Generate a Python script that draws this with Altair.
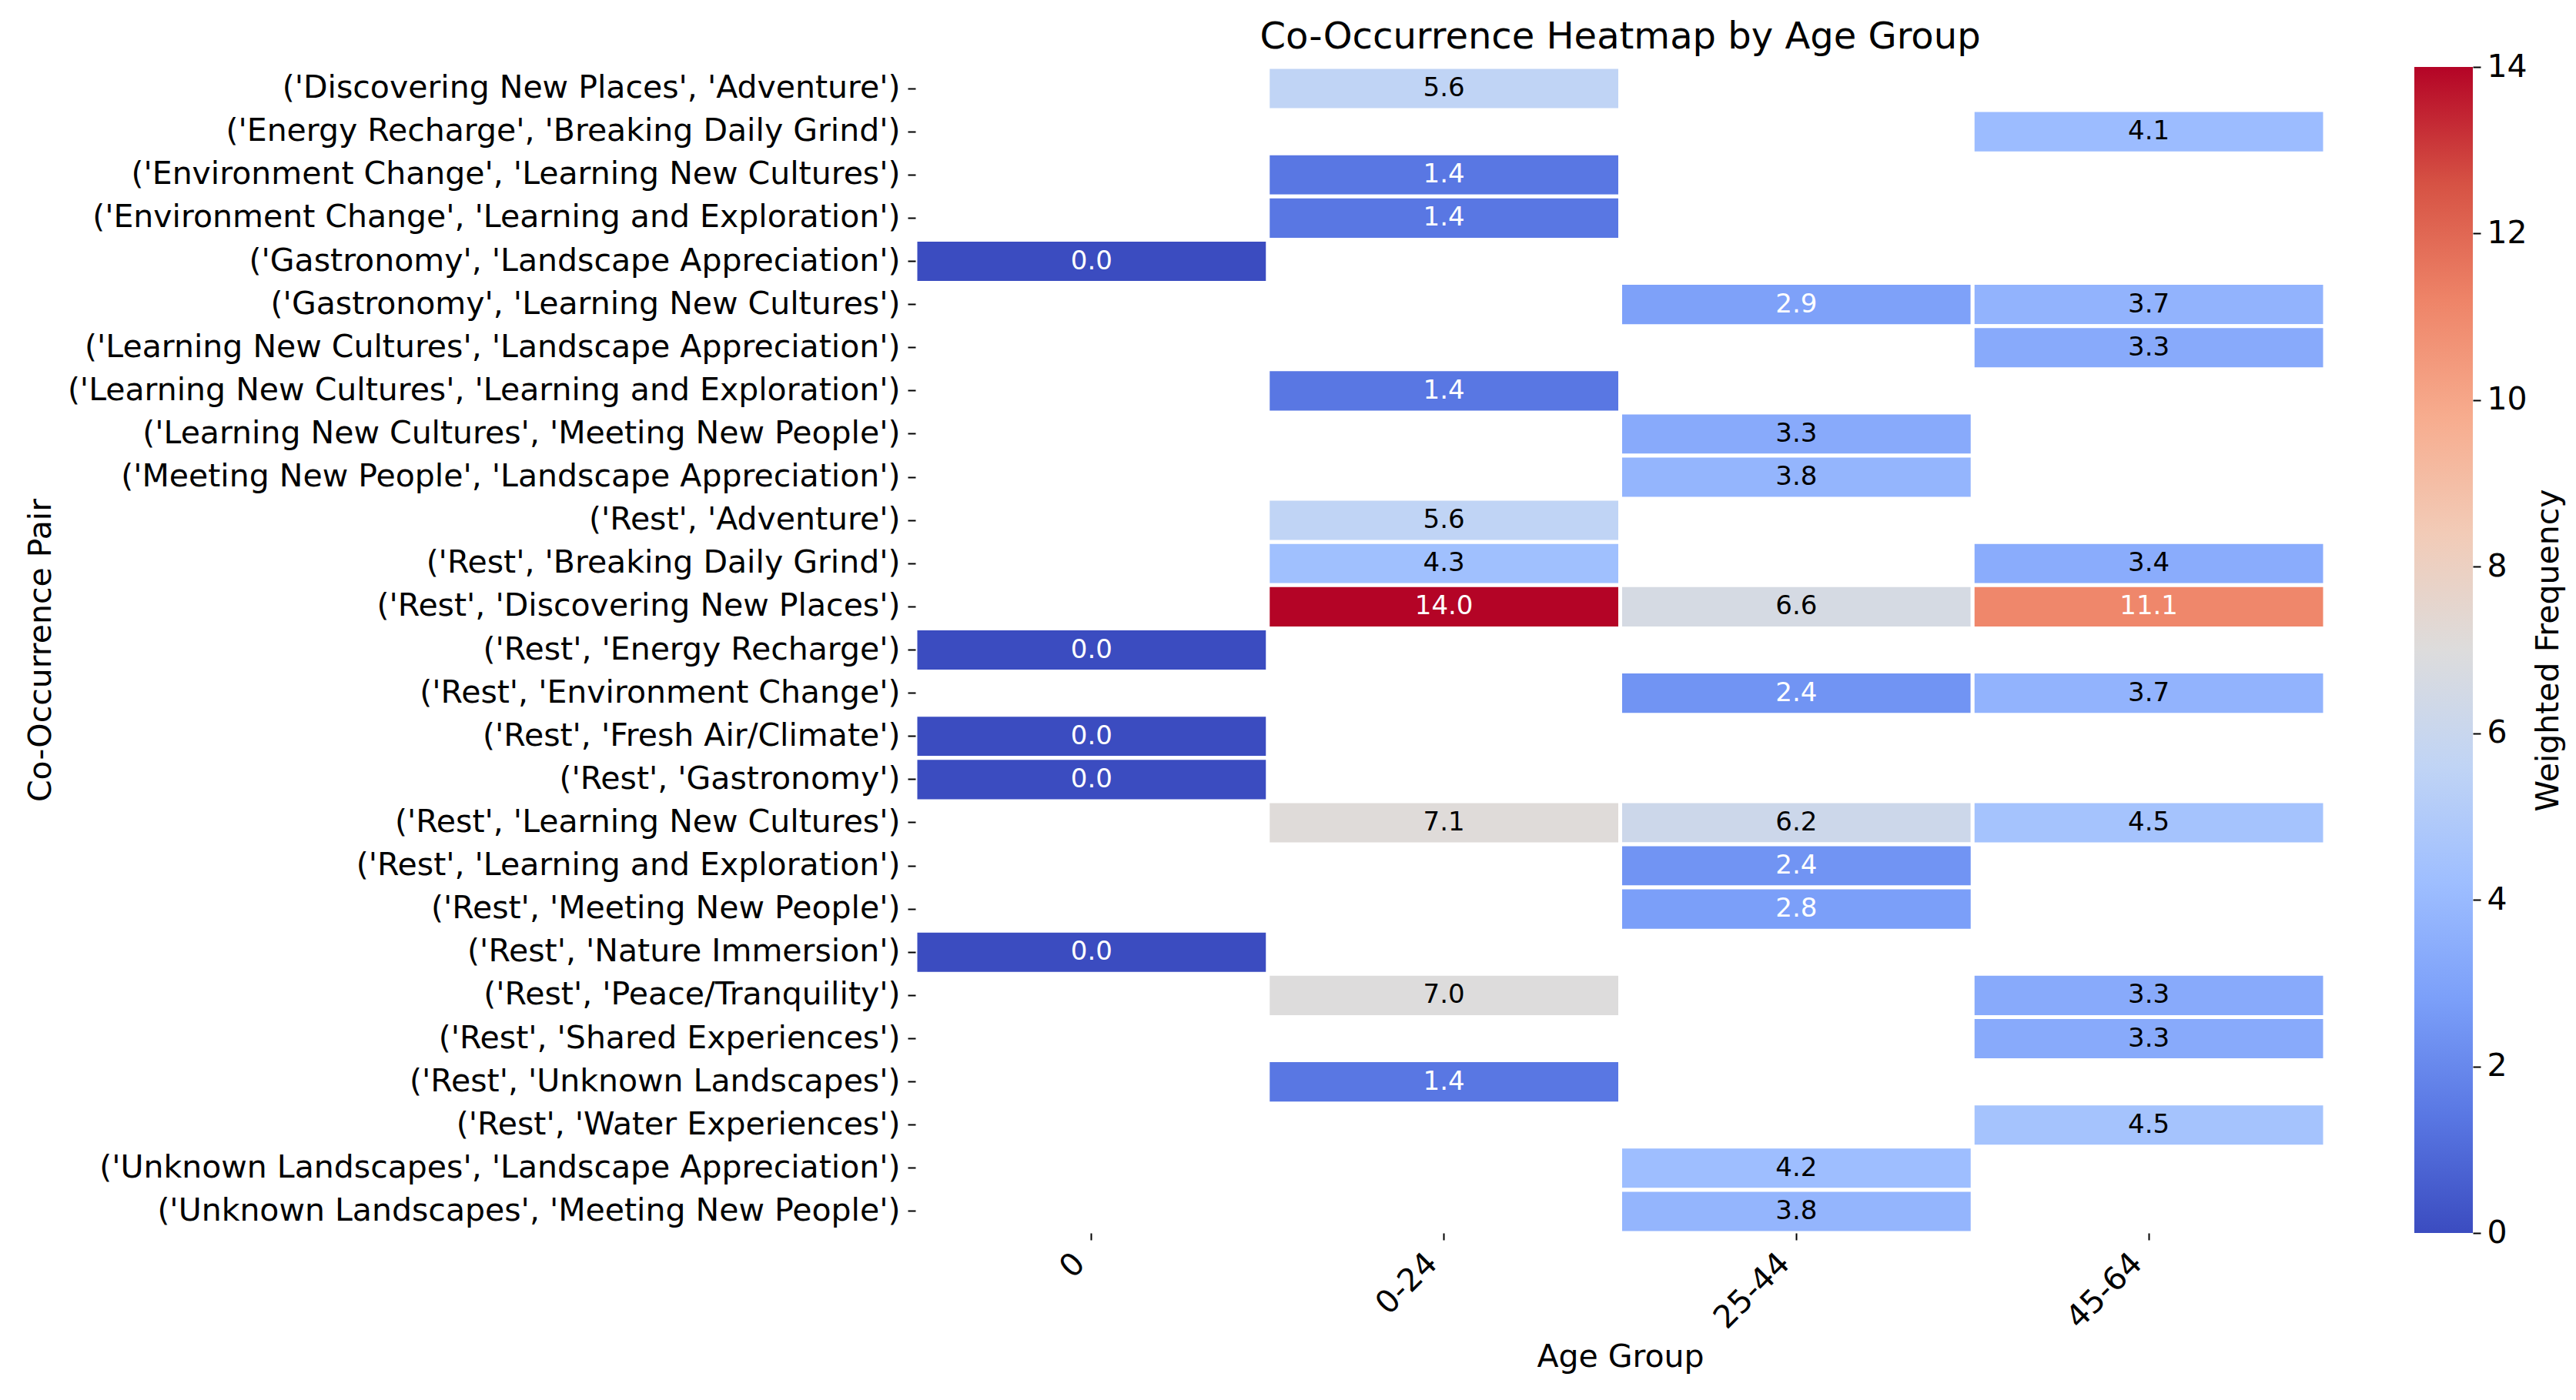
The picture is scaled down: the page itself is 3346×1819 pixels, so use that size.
import altair as alt
import pandas as pd

pairs = [
    "('Discovering New Places', 'Adventure')",
    "('Energy Recharge', 'Breaking Daily Grind')",
    "('Environment Change', 'Learning New Cultures')",
    "('Environment Change', 'Learning and Exploration')",
    "('Gastronomy', 'Landscape Appreciation')",
    "('Gastronomy', 'Learning New Cultures')",
    "('Learning New Cultures', 'Landscape Appreciation')",
    "('Learning New Cultures', 'Learning and Exploration')",
    "('Learning New Cultures', 'Meeting New People')",
    "('Meeting New People', 'Landscape Appreciation')",
    "('Rest', 'Adventure')",
    "('Rest', 'Breaking Daily Grind')",
    "('Rest', 'Discovering New Places')",
    "('Rest', 'Energy Recharge')",
    "('Rest', 'Environment Change')",
    "('Rest', 'Fresh Air/Climate')",
    "('Rest', 'Gastronomy')",
    "('Rest', 'Learning New Cultures')",
    "('Rest', 'Learning and Exploration')",
    "('Rest', 'Meeting New People')",
    "('Rest', 'Nature Immersion')",
    "('Rest', 'Peace/Tranquility')",
    "('Rest', 'Shared Experiences')",
    "('Rest', 'Unknown Landscapes')",
    "('Rest', 'Water Experiences')",
    "('Unknown Landscapes', 'Landscape Appreciation')",
    "('Unknown Landscapes', 'Meeting New People')",
]

ages = ["0", "0-24", "25-44", "45-64"]

N = None
vals_0 = [N, N, N, N, 0.0, N, N, N, N, N, N, N, N, 0.0, N, 0.0, 0.0, N, N, N, 0.0, N, N, N, N, N, N]
vals_0_24 = [5.6, N, 1.4, 1.4, N, N, N, 1.4, N, N, 5.6, 4.3, 14.0, N, N, N, N, 7.1, N, N, N, 7.0, N, 1.4, N, N, N]
vals_25_44 = [N, N, N, N, N, 2.9, N, N, 3.3, 3.8, N, N, 6.6, N, 2.4, N, N, 6.2, 2.4, 2.8, N, N, N, N, N, 4.2, 3.8]
vals_45_64 = [N, 4.1, N, N, N, 3.7, 3.3, N, N, N, N, 3.4, 11.1, N, 3.7, N, N, 4.5, N, N, N, 3.3, 3.3, N, 4.5, N, N]

# coolwarm colour map stops
cmap_stops = [0, 1.4, 2.8, 4.2, 5.6, 7.0, 8.4, 9.8, 11.2, 12.6, 14]
cmap_colors = ['#3b4cc0', '#5977e3', '#7b9ff9', '#9ebeff', '#c0d4f5', '#dddcdc',
               '#f2cbb7', '#f7ac8e', '#ee8468', '#d65244', '#b40426']
cbar_ticks = [0, 2, 4, 6, 8, 10, 12, 14]

rows = []
for age, vals in zip(ages, [vals_0, vals_0_24, vals_25_44, vals_45_64]):
    for p, v in zip(pairs, vals):
        if v is not None:
            rows.append({"pair": p, "age": age, "value": v})
df = pd.DataFrame(rows)

FONT = "DejaVu Sans"
PLOT_W, PLOT_H = 1831, 1515
CBAR_W = 76

x_enc = alt.X("age:N", sort=ages,
              scale=alt.Scale(domain=ages, paddingInner=0, paddingOuter=0),
              axis=alt.Axis(title="Age Group", labelAngle=-45, labelFontSize=41,
                            labelAlign="right", labelBaseline="bottom",
                            titleFontSize=41, titleFontWeight="normal",
                            tickSize=9, tickWidth=2, tickColor="black",
                            labelPadding=39, domain=False, grid=False,
                            labelColor="black", titleColor="black",
                            titlePadding=10))
y_enc = alt.Y("pair:N", sort=pairs,
              scale=alt.Scale(domain=pairs, paddingInner=0, paddingOuter=0),
              axis=alt.Axis(title="Co-Occurrence Pair", labelFontSize=41,
                            titleFontSize=41, titleFontWeight="normal",
                            titleX=-1124, titleY=PLOT_H / 2,
                            titleBaseline="alphabetic", titleAngle=270,
                            tickSize=10, tickWidth=2, tickColor="black",
                            labelPadding=10, labelLimit=2000, domain=False,
                            grid=False, labelColor="black", titleColor="black"))

base = alt.Chart(df)

rect = base.mark_rect(stroke="white", strokeWidth=5).encode(
    x=x_enc,
    y=y_enc,
    color=alt.Color("value:Q",
                    scale=alt.Scale(domain=cmap_stops, range=cmap_colors,
                                    interpolate="rgb"),
                    legend=None),
)

text = base.mark_text(fontSize=34, font=FONT).encode(
    x=alt.X("age:N", sort=ages),
    y=alt.Y("pair:N", sort=pairs),
    text=alt.Text("value:Q", format=".1f"),
    color=alt.condition("datum.value < 3 || datum.value > 10",
                        alt.value("white"), alt.value("black")),
)

heat = (rect + text).properties(
    width=PLOT_W,
    height=PLOT_H,
    title=alt.TitleParams("Co-Occurrence Heatmap by Age Group", fontSize=48,
                          fontWeight="normal", color="black", offset=12,
                          font=FONT),
)

# colour bar
cbar_df = pd.DataFrame({"lo": [cmap_stops[0]], "hi": [cmap_stops[-1]]})
grad = alt.Gradient(
    gradient="linear",
    stops=[alt.GradientStop(offset=s / cmap_stops[-1], color=c)
           for s, c in zip(cmap_stops, cmap_colors)],
    x1=0, x2=0, y1=1, y2=0,
)
cbar = alt.Chart(cbar_df).mark_rect(color=grad).encode(
    y=alt.Y("lo:Q", scale=alt.Scale(domain=[cmap_stops[0], cmap_stops[-1]], nice=False),
            axis=alt.Axis(orient="right", values=cbar_ticks, title="Weighted Frequency",
                          titleAngle=270, titleBaseline="top", titleFontSize=41,
                          titleFontWeight="normal", titleColor="black",
                          titlePadding=8, labelFontSize=41, labelColor="black",
                          tickSize=10, tickWidth=2, tickColor="black",
                          labelPadding=8, domain=False, grid=False)),
    y2="hi:Q",
    x=alt.value(0),
    x2=alt.value(CBAR_W),
).properties(width=CBAR_W, height=PLOT_H)

chart = alt.hconcat(heat, cbar, spacing=116, bounds="flush").properties(
    padding={"left": 24, "top": 16, "right": 5, "bottom": 5},
).configure(font=FONT).configure_view(stroke=None)

chart.save("out.html", embed_options={"renderer": "svg", "actions": False})
